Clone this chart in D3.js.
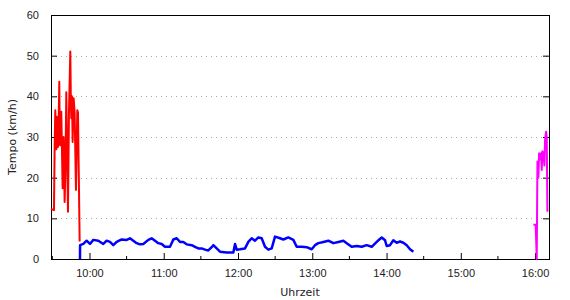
<!DOCTYPE html>
<html>
<head>
<meta charset="utf-8">
<script src="https://cdn.jsdelivr.net/npm/d3@7"></script>
<style>
  body { margin: 0; background: #fff; }
  svg { display: block; font-family: "DejaVu Sans", Verdana, sans-serif; }
</style>
</head>
<body>
<svg width="570" height="300"></svg>
<script>
// Fahrt 1 (rot)
const redTimes = ['9:29:00','9:31:19','9:31:51','9:32:23','9:32:50','9:33:12','9:33:35','9:34:00','9:34:25','9:34:49','9:35:37','9:36:00','9:36:26','9:36:50','9:37:14','9:38:19','9:39:08','9:39:56','9:40:35','9:41:17','9:42:38','9:43:26','9:44:31','9:45:00','9:45:19','9:45:50','9:46:24','9:47:13','9:48:01','9:49:05','9:50:10','9:50:43','9:52:04'];
const redValues = [12.3,12,27.2,36.6,29,27,35,33,27.5,28,43.6,30,28,33,36.2,17.4,30,14,22,41,11.6,36,51,38,34.6,40,28.8,39.5,36,17,36.6,36,4.3];

// Fahrt 2 (blau)
const blueTimes = ['9:52:20','9:52:25','9:55:01','9:57:43','10:00:24','10:03:06','10:07:08','10:11:11','10:13:52','10:16:34','10:19:16','10:21:57','10:26:00','10:30:02','10:32:44','10:35:25','10:38:07','10:40:49','10:43:30','10:47:32','10:50:14','10:52:56','10:55:37','10:58:19','11:01:01','11:05:03','11:07:45','11:10:26','11:13:08','11:15:49','11:18:31','11:22:34','11:25:15','11:27:56','11:30:38','11:33:20','11:36:01','11:38:43','11:40:04','11:42:46','11:45:27','11:50:50','11:56:14','11:57:35','11:58:55','12:01:37','12:05:40','12:08:21','12:11:02','12:13:44','12:16:26','12:19:08','12:21:49','12:24:31','12:27:13','12:29:54','12:33:56','12:36:38','12:40:40','12:44:43','12:47:25','12:51:27','12:55:29','12:59:32','13:02:13','13:04:55','13:08:58','13:13:00','13:17:02','13:21:05','13:25:07','13:27:49','13:31:51','13:35:53','13:39:56','13:43:58','13:48:01','13:52:04','13:53:24','13:56:06','13:58:48','14:00:08','14:02:50','14:05:30','14:08:12','14:10:54','14:13:36','14:16:18','14:19:00','14:21:40'];
const blueValues = [0,3.4,3.7,4.5,3.7,4.7,4.5,3.7,4.5,4.2,3.4,4.2,4.8,4.7,5.1,4.5,3.9,3.6,3.7,4.7,5.1,4.5,3.9,3.7,3.0,3.0,4.8,5.1,4.2,4.2,3.6,3.4,3.0,2.6,2.6,2.3,2.1,2.9,3.4,2.6,1.8,1.6,1.6,3.7,2.3,2.4,2.6,4.2,5.1,4.5,5.3,5.1,3.0,2.3,2.6,5.5,5.1,4.8,5.3,4.7,3.0,3.0,2.9,2.4,3.4,3.9,4.2,4.5,3.9,4.2,4.5,3.9,3.0,3.2,3.0,3.4,3.0,4.2,4.6,5.3,4.6,3.2,3.4,4.6,4.0,4.3,4.0,3.4,2.4,1.8];

// Fahrt 3 (magenta)
const magentaTimes = ['15:58:39','16:00:30','16:01:21','16:01:54','16:02:42','16:03:14','16:04:02','16:04:51','16:05:23','16:05:55','16:06:44','16:07:32','16:08:04','16:08:53','16:09:25','16:09:58'];
const magentaValues = [8.4,8.4,0,24,20,26,24.5,26,21.9,26.5,26,23,29.3,31.3,30,11.6];

const xDomain = ['9:28:55', '16:11:15'];
const yTicks = [0, 10, 20, 30, 40, 50, 60];

const parse = d3.timeParse('%H:%M:%S');
const toPoints = (times, values) => times.map((t, i) => ({ t: parse(t), v: values[i] }));

const series = [
    { points: toPoints(redTimes, redValues), color: '#ff0000', width: 2 },
    { points: toPoints(blueTimes, blueValues), color: '#0000ff', width: 2.5 },
    { points: toPoints(magentaTimes, magentaValues), color: '#ff00ff', width: 2 }
];

const margin = { top: 15, right: 21, bottom: 41, left: 51 };
const width = 570 - margin.left - margin.right;
const height = 300 - margin.top - margin.bottom;

const svg = d3.select('svg');
const g = svg.append('g').attr('transform', `translate(${margin.left},${margin.top})`);

const x = d3.scaleTime().domain(xDomain.map(parse)).range([0, width]);
const y = d3.scaleLinear().domain([0, 60]).range([height, 0]);

// horizontal grid
g.append('g')
    .selectAll('line')
    .data(yTicks.filter((d) => d > 0 && d < 60))
    .enter()
    .append('line')
    .attr('x1', 0)
    .attr('x2', width)
    .attr('y1', (d) => Math.round(y(d)) + 0.5)
    .attr('y2', (d) => Math.round(y(d)) + 0.5)
    .attr('stroke', '#a8a8a8')
    .attr('stroke-dasharray', '1,4');

// y axis left + mirrored right
const yAxisLeft = g.append('g')
    .call(d3.axisLeft(y).tickValues(yTicks).tickSizeInner(-6).tickSizeOuter(0).tickPadding(12));
yAxisLeft.select('.domain').remove();
yAxisLeft.selectAll('text').attr('font-size', 11).attr('fill', '#222');

const yAxisRight = g.append('g')
    .attr('transform', `translate(${width},0)`)
    .call(d3.axisRight(y).tickValues(yTicks).tickSizeInner(-6).tickSizeOuter(0).tickFormat(''));
yAxisRight.select('.domain').remove();

// x axis: hours + minor half hours
const hours = d3.timeHour.range(parse('10:00:00'), parse('16:00:01'));
const halves = d3.timeMinute.every(30).range(x.domain()[0], x.domain()[1]).filter((d) => d.getMinutes() === 30);

const xAxis = g.append('g')
    .attr('transform', `translate(0,${height})`)
    .call(d3.axisBottom(x).tickValues(hours).tickFormat(d3.timeFormat('%H:%M')).tickSizeInner(-6).tickSizeOuter(0).tickPadding(10));
xAxis.select('.domain').remove();
xAxis.selectAll('text').attr('font-size', 11).attr('fill', '#222');

g.append('g')
    .attr('transform', `translate(0,${height})`)
    .selectAll('line')
    .data(halves)
    .enter()
    .append('line')
    .attr('x1', (d) => x(d))
    .attr('x2', (d) => x(d))
    .attr('y1', 0)
    .attr('y2', -3)
    .attr('stroke', '#000');

// frame
g.append('rect')
    .attr('x', 0.5)
    .attr('y', 0.5)
    .attr('width', width)
    .attr('height', height)
    .attr('fill', 'none')
    .attr('stroke', '#000');

// lines
const line = d3.line().x((d) => x(d.t)).y((d) => y(d.v));
g.append('g')
    .selectAll('path')
    .data(series)
    .enter()
    .append('path')
    .attr('d', (d) => line(d.points))
    .attr('fill', 'none')
    .attr('stroke', (d) => d.color)
    .attr('stroke-width', (d) => d.width)
    .attr('stroke-linejoin', 'round');

// labels
svg.append('text')
    .attr('x', margin.left + width / 2)
    .attr('y', 296)
    .attr('text-anchor', 'middle')
    .attr('font-size', 11)
    .attr('fill', '#222')
    .text('Uhrzeit');

svg.append('text')
    .attr('transform', `translate(16,${margin.top + height / 2}) rotate(-90)`)
    .attr('text-anchor', 'middle')
    .attr('font-size', 11)
    .attr('fill', '#222')
    .text('Tempo (km/h)');
</script>
</body>
</html>
